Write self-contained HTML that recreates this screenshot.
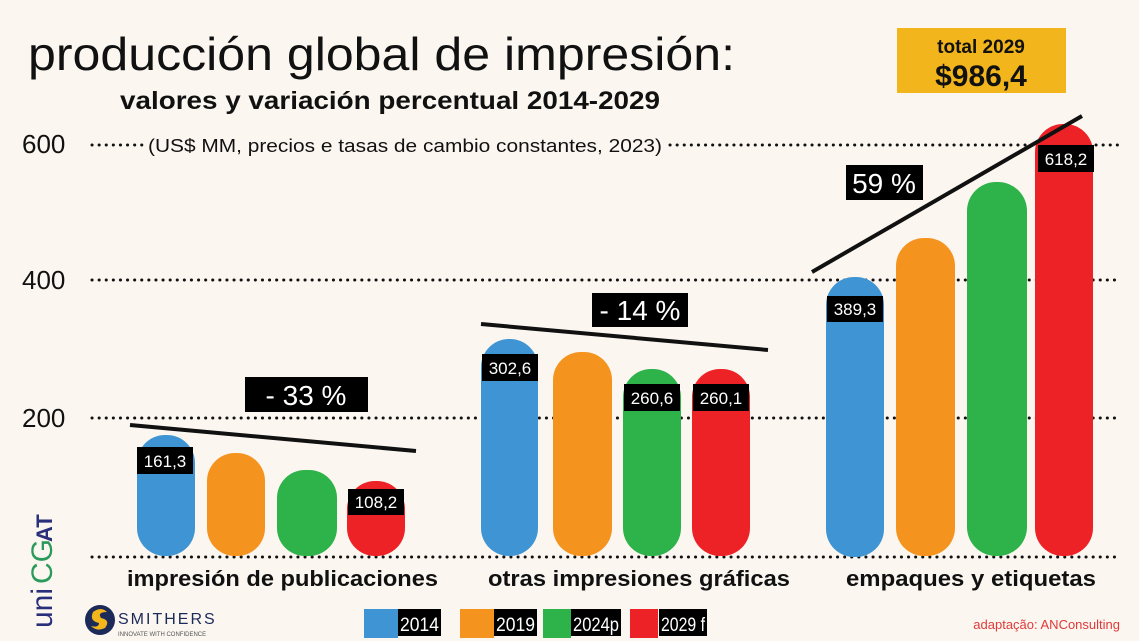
<!DOCTYPE html>
<html><head><meta charset="utf-8"><style>
html,body{margin:0;padding:0;background:#fbf6f0;}
svg{display:block;font-family:"Liberation Sans",Arial,sans-serif;}
</style></head><body>
<svg width="1139" height="641" viewBox="0 0 1139 641" xmlns="http://www.w3.org/2000/svg">
<rect width="1139" height="641" fill="#fbf6f0"/>
<text x="28" y="70" font-size="46" fill="#111" textLength="707" lengthAdjust="spacingAndGlyphs">producción global de impresión:</text>
<text x="120" y="109" font-size="25" font-weight="bold" fill="#111" textLength="540" lengthAdjust="spacingAndGlyphs">valores y variación percentual 2014-2029</text>
<rect x="897" y="28" width="169" height="65" fill="#f2b51b"/>
<text x="981" y="53" font-size="19" font-weight="bold" text-anchor="middle" fill="#111">total 2029</text>
<text x="981" y="86" font-size="30" font-weight="bold" text-anchor="middle" fill="#111">$986,4</text>
<g stroke="#111" stroke-width="3" stroke-dasharray="0.1 7" stroke-linecap="round">
<line x1="92" y1="145" x2="145" y2="145"/>
<line x1="670" y1="145" x2="1120" y2="145"/>
<line x1="92" y1="280" x2="1120" y2="280"/>
<line x1="92" y1="418" x2="1120" y2="418"/>
<line x1="92" y1="557" x2="1120" y2="557"/>
</g>
<text x="148" y="152" font-size="18" fill="#111" textLength="514" lengthAdjust="spacingAndGlyphs">(US$ MM, precios e tasas de cambio constantes, 2023)</text>
<g font-size="26" fill="#111">
<text x="22" y="153">600</text><text x="22" y="289">400</text><text x="22" y="427">200</text>
</g>
<g>
<rect x="137" y="435" width="58" height="121" rx="28" fill="#3f95d4"/>
<rect x="207" y="453" width="58" height="103" rx="28" fill="#f5931f"/>
<rect x="277" y="470" width="60" height="86" rx="28" fill="#2db34a"/>
<rect x="347" y="481" width="58" height="75" rx="28" fill="#ec2227"/>
<rect x="481" y="339" width="57" height="217" rx="28" fill="#3f95d4"/>
<rect x="553" y="352" width="59" height="204" rx="28" fill="#f5931f"/>
<rect x="623" y="369" width="58" height="187" rx="28" fill="#2db34a"/>
<rect x="692" y="369" width="58" height="187" rx="28" fill="#ec2227"/>
<rect x="826" y="277" width="58" height="280" rx="28" fill="#3f95d4"/>
<rect x="896" y="238" width="59" height="318" rx="28" fill="#f5931f"/>
<rect x="967" y="182" width="60" height="374" rx="29" fill="#2db34a"/>
<rect x="1035" y="124" width="58" height="432" rx="28" fill="#ec2227"/>
</g>
<g stroke="#111" stroke-width="4">
<line x1="130" y1="425" x2="416" y2="451"/>
<line x1="481" y1="324" x2="768" y2="350"/>
<line x1="812" y1="272" x2="1082" y2="116"/>
</g>
<g fill="#000">
<rect x="137" y="447" width="56" height="27"/><rect x="348" y="489" width="56" height="26"/>
<rect x="482" y="354" width="56" height="27"/><rect x="624" y="384" width="56" height="27"/>
<rect x="693" y="384" width="56" height="27"/><rect x="827" y="296" width="56" height="26"/>
<rect x="1038" y="145" width="56" height="27"/>
<rect x="245" y="377" width="123" height="35"/><rect x="592" y="293" width="96" height="34"/>
<rect x="846" y="165" width="77" height="35"/>
</g>
<g fill="#fff" font-size="17" text-anchor="middle">
<text x="165" y="467">161,3</text><text x="376" y="508">108,2</text>
<text x="510" y="374">302,6</text><text x="652" y="404">260,6</text>
<text x="721" y="404">260,1</text><text x="855" y="315">389,3</text>
<text x="1066" y="165">618,2</text>
</g>
<g fill="#fff" font-size="28" text-anchor="middle">
<text x="306" y="405">- 33 %</text><text x="640" y="320">- 14 %</text><text x="884" y="193">59 %</text>
</g>
<g font-size="22" font-weight="bold" fill="#111">
<text x="127" y="586" textLength="311" lengthAdjust="spacingAndGlyphs">impresión de publicaciones</text>
<text x="488" y="586" textLength="302" lengthAdjust="spacingAndGlyphs">otras impresiones gráficas</text>
<text x="846" y="586" textLength="250" lengthAdjust="spacingAndGlyphs">empaques y etiquetas</text>
</g>
<g font-size="19">
<rect x="364" y="609" width="34" height="29" fill="#3f95d4"/><rect x="398" y="609" width="43" height="27" fill="#000"/><text x="400" y="631" fill="#fff" textLength="39" lengthAdjust="spacingAndGlyphs">2014</text>
<rect x="460" y="609" width="34" height="29" fill="#f5931f"/><rect x="494" y="609" width="43" height="27" fill="#000"/><text x="496" y="631" fill="#fff" textLength="39" lengthAdjust="spacingAndGlyphs">2019</text>
<rect x="543" y="609" width="28" height="29" fill="#2db34a"/><rect x="571" y="609" width="50" height="27" fill="#000"/><text x="573" y="631" fill="#fff" textLength="46" lengthAdjust="spacingAndGlyphs">2024p</text>
<rect x="630" y="609" width="28" height="29" fill="#ec2227"/><rect x="659" y="609" width="48" height="27" fill="#000"/><text x="661" y="631" fill="#fff" textLength="44" lengthAdjust="spacingAndGlyphs">2029 f</text>
</g>
<text x="1120" y="629" font-size="13" fill="#e03a3a" text-anchor="end">adaptação: ANConsulting</text>
<g transform="translate(52,628) rotate(-90)">
<text x="0" y="0" font-size="30" fill="#2a2f7a">uni</text>
<text x="44" y="0" font-size="30" fill="#2a9a5a">CG</text>
<text x="86" y="0" font-size="22" fill="#2a2f7a" font-weight="bold">AT</text>
</g>
<circle cx="100" cy="620" r="15" fill="#1c2a5a"/>
<path d="M93 612 q8-6 14 0 q-10 0 -6 6 q10 2 4 10 q-8 4-14-2 q8 2 8-3 q-10-2-6-11z" fill="#f2b51b"/>
<text x="118" y="624" font-size="16" fill="#1c2a5a" letter-spacing="2">SMITHERS</text>
<text x="118" y="636" font-size="6" fill="#555">INNOVATE WITH CONFIDENCE</text>
</svg>
</body></html>
